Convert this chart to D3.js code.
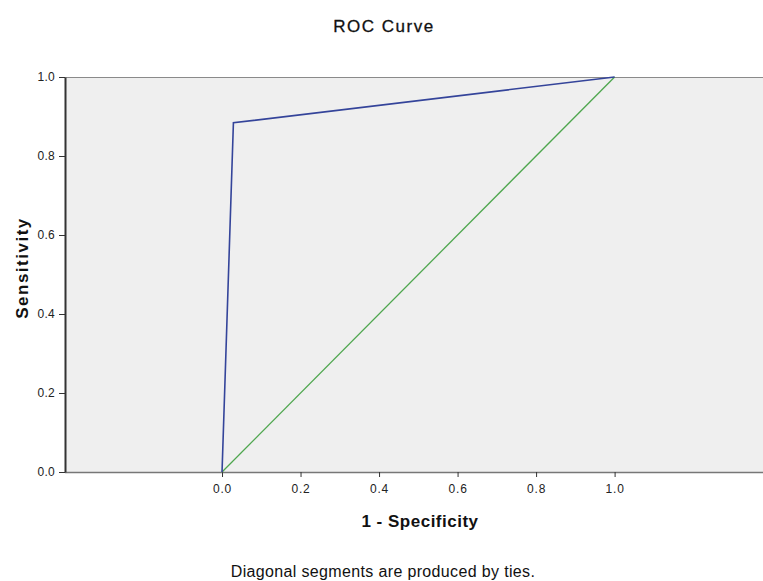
<!DOCTYPE html>
<html>
<head>
<meta charset="utf-8">
<script src="https://cdn.jsdelivr.net/npm/d3@7/dist/d3.min.js"></script>
<style>
  html, body { margin: 0; padding: 0; background: #ffffff; }
  svg { display: block; font-family: "Liberation Sans", Arial, sans-serif; }
</style>
</head>
<body>
<svg id="chart" width="763" height="581"></svg>
<script>
// ROC curve points (1 - specificity, sensitivity)
const rocFpr = [0.0, 0.029, 1.0];
const rocTpr = [0.0, 0.884, 1.0];
// Reference diagonal
const refFpr = [0.0, 1.0];
const refTpr = [0.0, 1.0];
// Axis ticks
const xTicks = [0.0, 0.2, 0.4, 0.6, 0.8, 1.0];
const yTicks = [0.0, 0.2, 0.4, 0.6, 0.8, 1.0];
const xDomain = [-0.4, 1.378];

const svg = d3.select("#chart");
const plot = { left: 65, right: 763, top: 77, bottom: 472 };

const x = d3.scaleLinear().domain(xDomain).range([plot.left, plot.right]);
const y = d3.scaleLinear().domain([0, 1]).range([plot.bottom, plot.top]);

// plot background
svg.append("rect")
  .attr("x", plot.left).attr("y", plot.top)
  .attr("width", plot.right - plot.left).attr("height", plot.bottom - plot.top)
  .attr("fill", "#efefef");

// top frame line
svg.append("line")
  .attr("x1", plot.left).attr("x2", plot.right)
  .attr("y1", plot.top + 0.5).attr("y2", plot.top + 0.5)
  .attr("stroke", "#8a8a8a").attr("stroke-width", 1);

// x axis
const xAxis = d3.axisBottom(x).tickValues(xTicks).tickFormat(d3.format(".1f")).tickSize(5).tickSizeOuter(0);
const gx = svg.append("g").attr("transform", `translate(0,${plot.bottom})`).call(xAxis);
gx.select(".domain").attr("stroke", "#777").attr("stroke-width", 1.5).attr("d", `M${plot.left},0.5H${plot.right}`);
gx.selectAll(".tick line").attr("stroke", "#333");
gx.selectAll(".tick text").attr("font-size", 12).attr("fill", "#222").attr("y", 11).attr("dy", "0.85em")
  .attr("letter-spacing", 0.8)
  .attr("font-family", "Liberation Sans, Arial, sans-serif");

// y axis
const yAxis = d3.axisLeft(y).tickValues(yTicks).tickFormat(d3.format(".1f")).tickSize(6).tickSizeOuter(0);
const gy = svg.append("g").attr("transform", `translate(${plot.left},0)`).call(yAxis);
gy.select(".domain").attr("stroke", "#333").attr("stroke-width", 2);
gy.selectAll(".tick line").attr("stroke", "#333");
gy.selectAll(".tick text").attr("font-size", 12).attr("fill", "#222").attr("x", -10)
  .attr("letter-spacing", 0.3)
  .attr("font-family", "Liberation Sans, Arial, sans-serif");

const line = d3.line().x(d => x(d[0])).y(d => y(d[1]));

// reference diagonal
svg.append("path")
  .datum(refFpr.map((v, i) => [v, refTpr[i]]))
  .attr("d", line).attr("fill", "none")
  .attr("stroke", "#4ea64e").attr("stroke-width", 1.3);

// ROC curve
svg.append("path")
  .datum(rocFpr.map((v, i) => [v, rocTpr[i]]))
  .attr("d", line).attr("fill", "none")
  .attr("stroke", "#34449a").attr("stroke-width", 1.6);

// titles
svg.append("text").attr("x", 384).attr("y", 32).attr("text-anchor", "middle")
  .attr("font-size", 17).attr("letter-spacing", 1.5).attr("stroke", "#111").attr("stroke-width", 0.3)
  .attr("fill", "#111").text("ROC Curve");
svg.append("text").attr("x", 420).attr("y", 527).attr("text-anchor", "middle")
  .attr("font-size", 17).attr("font-weight", "bold").attr("letter-spacing", 0.5)
  .attr("fill", "#111").text("1 - Specificity");
svg.append("text").attr("transform", "translate(28,268) rotate(-90)").attr("text-anchor", "middle")
  .attr("font-size", 17).attr("font-weight", "bold").attr("letter-spacing", 1.5)
  .attr("fill", "#111").text("Sensitivity");
svg.append("text").attr("x", 383).attr("y", 577).attr("text-anchor", "middle")
  .attr("font-size", 16).attr("letter-spacing", 0.35).attr("fill", "#111")
  .text("Diagonal segments are produced by ties.");
</script>
</body>
</html>
